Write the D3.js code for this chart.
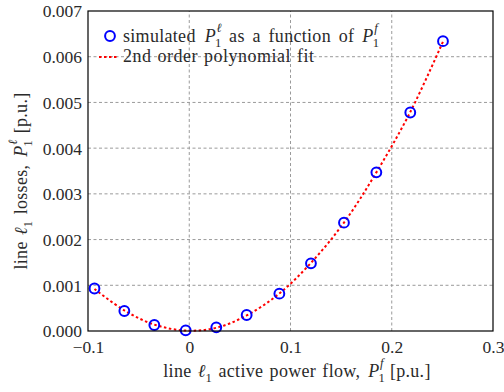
<!DOCTYPE html>
<html>
<head>
<meta charset="utf-8">
<script src="https://cdn.jsdelivr.net/npm/d3@7"></script>
<style>
  html, body { margin: 0; padding: 0; background: #fff; }
</style>
</head>
<body>
<svg id="chart" width="504" height="392"></svg>
<script>
// Simulated line losses versus active power flow on line l1
const flowValues = [-0.0936, -0.0641, -0.0345, -0.0035, 0.0267, 0.0567, 0.0890, 0.1202, 0.1528, 0.1848, 0.2183, 0.2506];
const lossValues = [0.00093, 0.000437, 0.000131, 0.000015, 0.00008, 0.00035, 0.000817, 0.00148, 0.00237, 0.00347, 0.00478, 0.00634];
// Quadratic fit evaluated at the same flow values
const fitValues = [0.00092, 0.00045, 0.00014, 0.00001, 0.00007, 0.00034, 0.00082, 0.00149, 0.00237, 0.00347, 0.00479, 0.00633];

const xTicks = [-0.1, 0, 0.1, 0.2, 0.3];
const xTickLabels = ["\u22120.1", "0", "0.1", "0.2", "0.3"];
const yTicks = [0, 0.001, 0.002, 0.003, 0.004, 0.005, 0.006, 0.007];
const yTickLabels = ["0.000", "0.001", "0.002", "0.003", "0.004", "0.005", "0.006", "0.007"];

const FONT = '"Liberation Serif", "Times New Roman", serif';
const TEXT_COLOR = "#2a2a2a";
const tickSize = 17.5;
const labelSize = 18;

const margin = { left: 88, right: 11, top: 11, bottom: 61 };
const W = 504, H = 392;
const svg = d3.select("#chart")
  .attr("font-family", FONT);

const x = d3.scaleLinear().domain([-0.1, 0.3]).range([margin.left, W - margin.right]);
const y = d3.scaleLinear().domain([0, 0.007]).range([H - margin.bottom, margin.top]);

// Grid
const grid = svg.append("g");
grid.selectAll("line.gx").data(xTicks.slice(1, -1)).join("line")
  .attr("x1", d => x(d)).attr("x2", d => x(d))
  .attr("y1", y.range()[0]).attr("y2", y.range()[1])
  .attr("stroke", "#9a9a9a").attr("stroke-width", 1).attr("stroke-dasharray", "3,2.5");
grid.selectAll("line.gy").data(yTicks.slice(1, -1)).join("line")
  .attr("y1", d => y(d)).attr("y2", d => y(d))
  .attr("x1", x.range()[0]).attr("x2", x.range()[1])
  .attr("stroke", "#9a9a9a").attr("stroke-width", 1).attr("stroke-dasharray", "3,2.5");

// Axes (tick labels only; frame drawn separately)
const xAxis = d3.axisBottom(x).tickValues(xTicks).tickSize(0).tickPadding(7)
  .tickFormat((d, i) => xTickLabels[i]);
const gx = svg.append("g").attr("transform", `translate(0,${y.range()[0]})`).call(xAxis)
  .attr("font-family", FONT).attr("font-size", tickSize);
gx.select(".domain").remove();
gx.selectAll("text").attr("dy", "0.85em").attr("fill", TEXT_COLOR);

const yAxis = d3.axisLeft(y).tickValues(yTicks).tickSize(0).tickPadding(6)
  .tickFormat((d, i) => yTickLabels[i]);
const gy = svg.append("g").attr("transform", `translate(${x.range()[0]},0)`).call(yAxis)
  .attr("font-family", FONT).attr("font-size", tickSize);
gy.select(".domain").remove();
gy.selectAll("text").attr("dy", "0.34em").attr("fill", TEXT_COLOR);

// Fit curve
const line = d3.line()
  .x((d, i) => x(flowValues[i]))
  .y(d => y(d))
  .curve(d3.curveCatmullRom.alpha(0.5));
svg.append("path").datum(fitValues)
  .attr("d", line)
  .attr("fill", "none").attr("stroke", "#ff0000").attr("stroke-width", 2)
  .attr("stroke-dasharray", "2.5,2.5");

// Simulated points
svg.append("g").selectAll("circle").data(lossValues).join("circle")
  .attr("cx", (d, i) => x(flowValues[i]))
  .attr("cy", d => y(d))
  .attr("r", 4.9)
  .attr("fill", "none").attr("stroke", "#0000ff").attr("stroke-width", 2);

// Frame
svg.append("rect")
  .attr("x", x.range()[0]).attr("y", y.range()[1])
  .attr("width", x.range()[1] - x.range()[0])
  .attr("height", y.range()[0] - y.range()[1])
  .attr("fill", "none").attr("stroke", "#000").attr("stroke-width", 1.2);

// Write "P" with subscript 1 and a stacked superscript
function mathP(t, sup, fs, lead) {
  const small = fs * 0.7;
  t.append("tspan").attr("font-style", "italic").attr("dx", lead).text("P");
  t.append("tspan").attr("font-size", small).attr("dx", -1).attr("dy", fs * 0.25).text("1");
  t.append("tspan").attr("font-size", small).attr("font-style", "italic")
    .attr("dx", -small * 0.4).attr("dy", -fs * 0.8).text(sup);
}
// Write "ℓ" with subscript 1
function ell1(t, fs) {
  t.append("tspan").attr("font-style", "italic").text("\u2113");
  t.append("tspan").attr("font-size", fs * 0.7).attr("dy", fs * 0.25).text("1");
}

// Legend
const leg = svg.append("g");
leg.append("circle").attr("cx", 110).attr("cy", 36).attr("r", 4.9)
  .attr("fill", "none").attr("stroke", "#0000ff").attr("stroke-width", 2);
const lt1 = leg.append("text").attr("x", 123).attr("y", 42)
  .attr("font-size", labelSize).attr("fill", TEXT_COLOR)
  .attr("letter-spacing", 0.3).attr("word-spacing", 3);
lt1.append("tspan").text("simulated");
mathP(lt1, "\u2113", labelSize, 9);
lt1.append("tspan").attr("dx", 7).attr("dy", labelSize * 0.55).text("as a function of");
mathP(lt1, "f", labelSize, 8);

leg.append("line").attr("x1", 99).attr("x2", 119).attr("y1", 57).attr("y2", 57)
  .attr("stroke", "#ff0000").attr("stroke-width", 2).attr("stroke-dasharray", "2.5,2.5");
leg.append("text").attr("x", 123).attr("y", 62)
  .attr("font-size", labelSize).attr("fill", TEXT_COLOR)
  .attr("letter-spacing", 0.5).attr("word-spacing", 1)
  .text("2nd order polynomial fit");

// Axis titles
const xt = svg.append("text").attr("x", 297).attr("y", 377)
  .attr("text-anchor", "middle").attr("font-size", labelSize)
  .attr("fill", TEXT_COLOR).attr("letter-spacing", 0.3).attr("word-spacing", 1.5);
xt.append("tspan").text("line ");
ell1(xt, labelSize);
xt.append("tspan").attr("dy", -labelSize * 0.25).text(" active power flow,");
mathP(xt, "f", labelSize, 8);
xt.append("tspan").attr("dx", 6).attr("dy", labelSize * 0.55).text("[p.u.]");

const yt = svg.append("text").attr("transform", "translate(27,181) rotate(-90)")
  .attr("text-anchor", "middle").attr("font-size", labelSize)
  .attr("fill", TEXT_COLOR).attr("letter-spacing", 0.3).attr("word-spacing", 1.5);
yt.append("tspan").text("line ");
ell1(yt, labelSize);
yt.append("tspan").attr("dy", -labelSize * 0.25).text(" losses,");
mathP(yt, "\u2113", labelSize, 8);
yt.append("tspan").attr("dx", 6).attr("dy", labelSize * 0.55).text("[p.u.]");
</script>
</body>
</html>
